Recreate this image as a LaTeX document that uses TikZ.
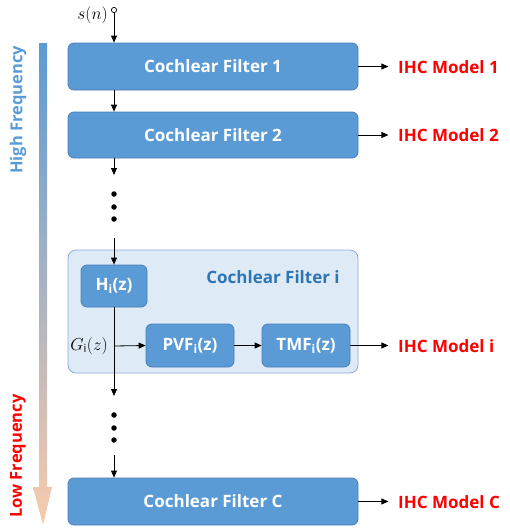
\documentclass[tikz,border=0pt]{standalone}
\usepackage{fontspec}
\setmainfont{Open Sans}
\usetikzlibrary{arrows.meta}
\definecolor{boxblue}{HTML}{5B9BD5}
\definecolor{boxedge}{HTML}{4A7EBB}
\definecolor{panel}{HTML}{DEEBF7}
\definecolor{paneledge}{HTML}{8FAADC}
\definecolor{titleblue}{HTML}{2E75B6}
\definecolor{hiblue}{HTML}{5B9BD5}
\definecolor{midgray}{HTML}{A3A8B8}
\definecolor{peach}{HTML}{F8CBAD}
\begin{document}
\begin{tikzpicture}[x=1pt,y=-1pt,
  filt/.style={draw=boxedge, fill=boxblue, rounded corners=6pt, text=white,
    font=\bfseries\fontsize{17}{19}\selectfont, line width=0.8pt, inner sep=0pt},
  link/.style={-{Triangle[length=7pt,width=6pt]}, line width=0.8pt},
  ihc/.style={text=red, font=\bfseries\fontsize{17}{19}\selectfont, anchor=west, inner sep=0pt},
  dot/.style={circle, fill=black, inner sep=0pt, minimum size=5.5pt}]
\useasboundingbox (0,0) rectangle (510,530);

% frequency axis
\shade[top color=hiblue, middle color=midgray, bottom color=peach]
  (39,43) -- (47,43) -- (47,487) -- (52,487) -- (43,525) -- (33,487) -- (39,487) -- cycle;
\node[rotate=90, text=hiblue, font=\bfseries\fontsize{16.5}{18}\selectfont] (hf) at (18,110) {High Frequency};
\node[rotate=90, text=red, font=\bfseries\fontsize{16.5}{18}\selectfont] (lf) at (18,456) {Low Frequency};

% input
\coordinate (inp) at (114,10);
\node[anchor=east, font=\fontsize{17}{19}\selectfont, inner sep=0pt] (sn) at (108,15) {$s(n)$};
\draw[line width=0.7pt, fill=white] (inp) circle (2.6pt);

% filter bank
\node[filt, minimum width=290pt, minimum height=47pt] (f1) at (213,66.5) {Cochlear Filter 1};
\node[filt, minimum width=290pt, minimum height=46pt] (f2) at (213,135) {Cochlear Filter 2};
\node[filt, minimum width=290pt, minimum height=47pt] (fc) at (213,501.5) {Cochlear Filter C};

% detailed stage i
\node[draw=paneledge, fill=panel, rounded corners=8pt, line width=0.8pt,
  minimum width=290pt, minimum height=123pt, inner sep=0pt] (fi) at (213,311.5) {};
\node[text=titleblue, font=\bfseries\fontsize{17}{19}\selectfont] (fit) at (273,277) {Cochlear Filter i};
\node[filt, minimum width=66pt, minimum height=42pt] (h) at (114,286) {H\textsubscript{i}(z)};
\node[filt, minimum width=88pt, minimum height=43pt] (pvf) at (190,345.5) {PVF\textsubscript{i}(z)};
\node[filt, minimum width=88pt, minimum height=43pt] (tmf) at (306,345.5) {TMF\textsubscript{i}(z)};
\node[anchor=east, font=\fontsize{16}{18}\selectfont, inner sep=0pt] (g) at (108,346) {$G_{\mathrm{i}}(z)$};

% dots
\node[dot] (d1) at (114,194) {};
\node[dot] (d2) at (114,207) {};
\node[dot] (d3) at (114,219) {};
\node[dot] (e1) at (114,415) {};
\node[dot] (e2) at (114,428) {};
\node[dot] (e3) at (114,440) {};

\coordinate (a1) at (114,175);
\coordinate (a2) at (114,238);
\coordinate (gi) at (114,346);
\coordinate (b1) at (114,396);
\coordinate (b2) at (114,455);

% connectors
\draw[link] (inp) ++(0,2.6) -- (f1.north -| inp);
\draw[link] (f1.south -| inp) -- (f2.north -| inp);
\draw[link] (f2.south -| inp) -- (a1);
\draw[link] (a2) -- (h.north);
\draw[link] (h.south) -- (b1);
\draw[link] (b2) -- (fc.north -| b2);
\draw[link] (gi) -- (pvf.west);
\draw[link] (pvf.east) -- (tmf.west);

% outputs
\node[ihc] (o1) at (398,67) {IHC Model 1};
\node[ihc] (o2) at (398,135) {IHC Model 2};
\node[ihc] (oi) at (398,346) {IHC Model i};
\node[ihc] (oc) at (398,502) {IHC Model C};
\draw[link] (f1.east) -- ++(30,0);
\draw[link] (f2.east) -- ++(30,0);
\draw[link] (tmf.east) -- ++(38,0);
\draw[link] (fc.east) -- ++(30,0);
\end{tikzpicture}
\end{document}
